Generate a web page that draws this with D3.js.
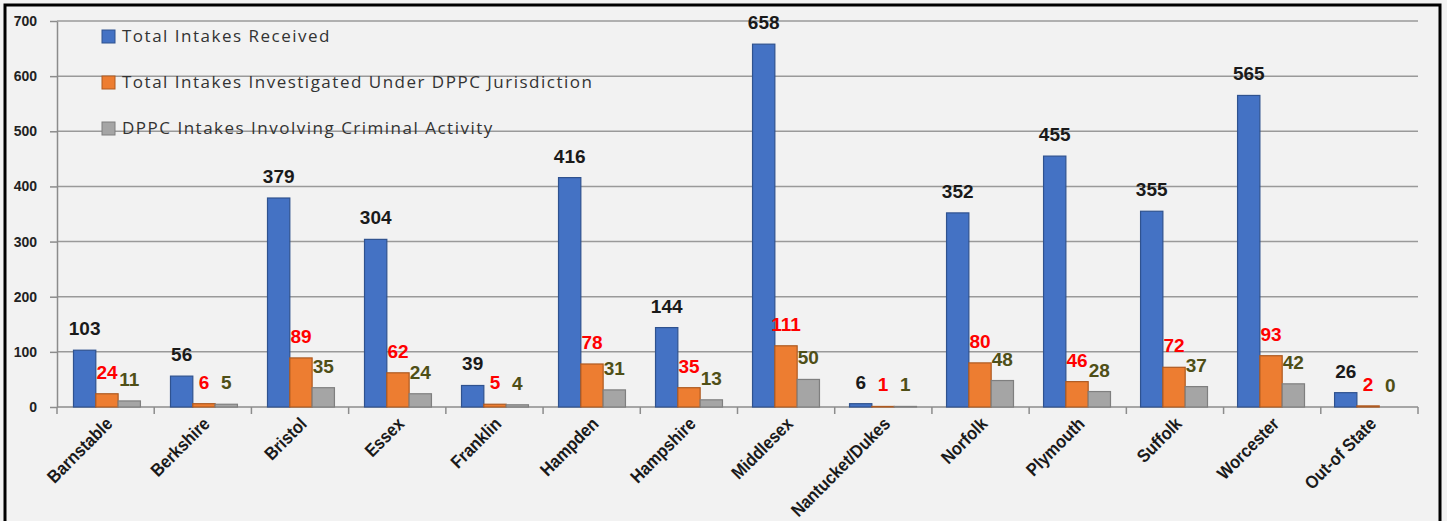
<!DOCTYPE html>
<meta charset="utf-8">
<style>
body { margin: 0; background: #f2f2f2; }
svg { display: block; }
.grid line { stroke: #9a9a9a; stroke-width: 1.5; }
.axis path, .axis line { stroke: #8c8c8c; stroke-width: 1.5; }
.ytick text { font-family: "Liberation Sans", Arial, sans-serif; font-weight: bold; font-size: 14px; fill: #222; }
.xlab { font-family: "Liberation Sans", Arial, sans-serif; font-weight: bold; font-size: 18px; fill: #1a1a1a; }
.val { font-family: "Liberation Sans", Arial, sans-serif; font-weight: bold; font-size: 19px; }
.legend text { font-family: "Open Sans", "Liberation Sans", sans-serif; font-size: 17px; fill: #333; letter-spacing: 1.5px; }
</style>
<body>
<svg width="1447" height="521"></svg>
<script src="https://d3js.org/d3.v7.min.js"></script>
<script>

var counties = ["Barnstable", "Berkshire", "Bristol", "Essex", "Franklin", "Hampden", "Hampshire",
  "Middlesex", "Nantucket/Dukes", "Norfolk", "Plymouth", "Suffolk", "Worcester", "Out-of State"];
var received     = [103, 56, 379, 304, 39, 416, 144, 658, 6, 352, 455, 355, 565, 26];
var investigated = [24, 6, 89, 62, 5, 78, 35, 111, 1, 80, 46, 72, 93, 2];
var criminal     = [11, 5, 35, 24, 4, 31, 13, 50, 1, 48, 28, 37, 42, 0];
var seriesNames = ["Total Intakes Received", "Total Intakes Investigated Under DPPC Jurisdiction",
  "DPPC Intakes Involving Criminal Activity"];
var yTicks = [0, 100, 200, 300, 400, 500, 600, 700];

var fills   = ["#4472c4", "#ed7d31", "#a5a5a5"],
    strokes = ["#2f528f", "#ae5a21", "#7f7f7f"],
    labelColors = ["#1a1a1a", "#ff0000", "#4f4f17"];

var svg = d3.select("svg"),
    margin = {top: 21, left: 57, right: 29, bottom: 114},
    width = 1447 - margin.left - margin.right,
    height = 521 - margin.top - margin.bottom;

// frame
svg.append("rect")
    .attr("x", 5).attr("y", 5)
    .attr("width", 1435).attr("height", 540)
    .attr("fill", "#f2f2f2")
    .attr("stroke", "#000").attr("stroke-width", 3);

var g = svg.append("g")
    .attr("transform", "translate(" + margin.left + "," + margin.top + ")");

var x0 = d3.scaleBand().domain(counties).range([0, width]).paddingInner(0.31).paddingOuter(0.17);
var x1 = d3.scaleBand().domain([0, 1, 2]).range([0, x0.bandwidth()]);
var y = d3.scaleLinear().domain([0, 700]).range([height, 0]);

// gridlines
g.append("g").attr("class", "grid")
  .selectAll("line")
  .data(yTicks.filter(function(d) { return d > 0; }))
  .enter().append("line")
    .attr("x1", 0).attr("x2", width)
    .attr("y1", function(d) { return y(d); })
    .attr("y2", function(d) { return y(d); });

// y axis
g.append("g")
    .attr("class", "axis ytick")
    .call(d3.axisLeft(y).tickValues(yTicks).tickSize(7).tickPadding(13).tickSizeOuter(0));

// x axis with ticks at category boundaries
var step = width / counties.length;
var bounds = d3.range(counties.length + 1).map(function(i) { return i * step; });
var xa = g.append("g").attr("class", "axis")
    .attr("transform", "translate(0," + height + ")");
xa.append("line").attr("x1", 0).attr("x2", width).attr("y1", 0).attr("y2", 0);
xa.selectAll(".tk").data(bounds).enter().append("line")
    .attr("class", "tk")
    .attr("x1", function(d) { return d; }).attr("x2", function(d) { return d; })
    .attr("y1", 0).attr("y2", 7);

g.selectAll(".xlab").data(counties).enter().append("text")
    .attr("class", "xlab")
    .attr("text-anchor", "end")
    .attr("transform", function(d, i) {
      return "translate(" + (step * (i + 0.5) + 8) + "," + (height + 18) + ") rotate(-45) scale(0.9,1)";
    })
    .text(function(d) { return d; });

// bars
var rows = counties.map(function(c, i) {
  return {county: c, vals: [received[i], investigated[i], criminal[i]]};
});

var groups = g.selectAll(".grp").data(rows).enter().append("g")
    .attr("class", "grp")
    .attr("transform", function(d) { return "translate(" + x0(d.county) + ",0)"; });

groups.selectAll("rect")
  .data(function(d) { return d.vals.map(function(v, k) { return {k: k, v: v}; }); })
  .enter().append("rect")
    .attr("x", function(d) { return x1(d.k); })
    .attr("y", function(d) { return y(d.v); })
    .attr("width", x1.bandwidth())
    .attr("height", function(d) { return height - y(d.v); })
    .attr("fill", function(d) { return fills[d.k]; })
    .attr("stroke", function(d) { return strokes[d.k]; })
    .attr("stroke-width", 1.2);

groups.selectAll("text.val")
  .data(function(d) { return d.vals.map(function(v, k) { return {k: k, v: v}; }); })
  .enter().append("text")
    .attr("class", "val")
    .attr("x", function(d) { return x1(d.k) + x1.bandwidth() / 2; })
    .attr("y", function(d) { return y(d.v) - 15; })
    .attr("text-anchor", "middle")
    .attr("fill", function(d) { return labelColors[d.k]; })
    .text(function(d) { return d.v; });

// legend
var legend = svg.append("g").attr("class", "legend");
seriesNames.forEach(function(name, k) {
  var row = legend.append("g").attr("transform", "translate(102," + (30 + k * 46) + ")");
  row.append("rect").attr("width", 13).attr("height", 13)
    .attr("fill", fills[k]).attr("stroke", strokes[k]).attr("stroke-width", 1);
  row.append("text").attr("x", 20).attr("y", 12).text(name);
});

</script>
</body>
